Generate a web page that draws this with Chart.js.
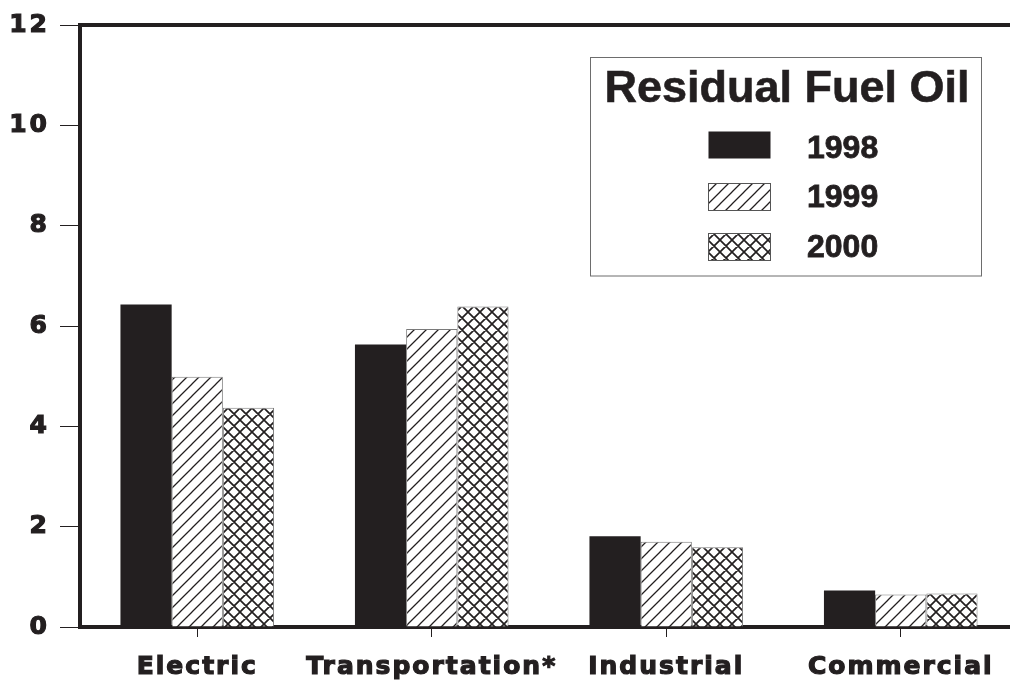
<!DOCTYPE html>
<html>
<head>
<meta charset="utf-8">
<script src="https://cdn.jsdelivr.net/npm/chart.js@4.4.1/dist/chart.umd.min.js"></script>
<style>
  html, body { margin: 0; padding: 0; background: #ffffff; overflow: hidden; }
  #wrap { position: absolute; left: 0; top: 0; width: 1020px; height: 681px; }
</style>
</head>
<body>
<div id="wrap"><canvas id="c"></canvas></div>
<script>
// ---- data ----
const categories = ['Electric', 'Transportation*', 'Industrial', 'Commercial'];
const seriesNames = ['1998', '1999', '2000'];
const values1998 = [6.43, 5.63, 1.81, 0.73];
const values1999 = [4.99, 5.94, 1.70, 0.65];
const values2000 = [4.37, 6.39, 1.59, 0.67];
const yTicks = [0, 2, 4, 6, 8, 10, 12];
const legendTitle = 'Residual Fuel Oil';

const INK = '#231f20';

function makePattern(kind) {
  const s = 12;
  const c = document.createElement('canvas');
  c.width = s; c.height = s;
  const g = c.getContext('2d');
  g.fillStyle = '#ffffff';
  g.fillRect(0, 0, s, s);
  g.strokeStyle = INK;
  g.lineCap = 'square';
  g.lineWidth = kind === 'cross' ? 1.7 : 1.25;
  g.beginPath();
  g.moveTo(-s / 2, s / 2); g.lineTo(s / 2, -s / 2);
  g.moveTo(0, s); g.lineTo(s, 0);
  g.moveTo(s / 2, s * 1.5); g.lineTo(s * 1.5, s / 2);
  if (kind === 'cross') {
    g.moveTo(-s / 2, s / 2); g.lineTo(s / 2, s * 1.5);
    g.moveTo(0, 0); g.lineTo(s, s);
    g.moveTo(s / 2, -s / 2); g.lineTo(s * 1.5, s / 2);
  }
  g.stroke();
  return g.createPattern(c, 'repeat');
}

const ctx = document.getElementById('c').getContext('2d');
const diag = makePattern('diag');
const cross = makePattern('cross');

function patchSpacing(scale, spacing) {
  if (!scale || scale._spacingPatched) return;
  const orig = scale.drawLabels;
  scale.drawLabels = function (area) {
    const prev = this.ctx.letterSpacing;
    this.ctx.letterSpacing = spacing;
    orig.call(this, area);
    this.ctx.letterSpacing = prev;
  };
  scale._spacingPatched = true;
}

const legendPlugin = {
  id: 'boxLegend',
  afterUpdate(chart) {
    patchSpacing(chart.scales.x, '2px');
    patchSpacing(chart.scales.y, '3px');
  },
  afterDraw(chart) {
    const g = chart.ctx;
    const ca = chart.chartArea;
    g.save();
    g.letterSpacing = '0px';
    g.strokeStyle = INK;
    g.lineWidth = 4;
    g.beginPath();
    g.moveTo(ca.left - 2, ca.top);
    g.lineTo(ca.right, ca.top);
    g.stroke();
    const bx = 590.5, by = 57.5, bw = 391, bh = 218.5;
    g.fillStyle = '#ffffff';
    g.fillRect(bx, by, bw, bh);
    g.strokeStyle = '#6d6d6d';
    g.lineWidth = 1;
    g.strokeRect(bx, by, bw, bh);
    g.fillStyle = INK;
    g.strokeStyle = INK;
    g.lineWidth = 0.6;
    g.font = 'bold 45px "Liberation Sans", Arial, sans-serif';
    g.textAlign = 'center';
    g.textBaseline = 'alphabetic';
    g.fillText(legendTitle, 787, 102);
    g.strokeText(legendTitle, 787, 102);
    g.font = 'bold 32px "Liberation Sans", Arial, sans-serif';
    g.textAlign = 'left';
    const rowsY = [131, 183, 233];
    const baselines = [158, 207, 257];
    chart.data.datasets.forEach((ds, i) => {
      const x = 708.5, y = rowsY[i] + 0.5, w = 62, h = 27;
      g.fillStyle = ds.backgroundColor;
      g.fillRect(x, y, w, h);
      if (ds.borderWidth) {
        g.strokeStyle = '#555555';
        g.lineWidth = 1;
        g.strokeRect(x, y, w, h);
      }
      g.fillStyle = INK;
      g.strokeStyle = INK;
      g.lineWidth = 0.8;
      g.fillText(ds.label, 807, baselines[i]);
      g.strokeText(ds.label, 807, baselines[i]);
    });
    g.restore();
  }
};

new Chart(ctx, {
  type: 'bar',
  data: {
    labels: categories,
    datasets: [
      { label: seriesNames[0], data: values1998, backgroundColor: INK, borderWidth: 0 },
      { label: seriesNames[1], data: values1999, backgroundColor: diag, borderColor: '#7a7a7a', borderWidth: 1 },
      { label: seriesNames[2], data: values2000, backgroundColor: cross, borderColor: '#7a7a7a', borderWidth: 1 }
    ]
  },
  options: {
    responsive: true,
    maintainAspectRatio: false,
    animation: false,
    devicePixelRatio: 1,
    layout: { padding: { top: 22, right: 2, left: 0, bottom: 0 } },
    datasets: { bar: { barPercentage: 1.0, categoryPercentage: 0.655 } },
    plugins: { legend: { display: false }, tooltip: { enabled: false }, title: { display: false } },
    scales: {
      x: {
        grid: { display: true, offset: false, drawOnChartArea: false, drawTicks: true, tickLength: 10, tickWidth: 1, tickColor: INK },
        border: { display: true, width: 4, color: INK },
        ticks: { color: INK, padding: 15, maxRotation: 0, autoSkip: false,
                 textStrokeColor: INK, textStrokeWidth: 1.2,
                 font: { family: '"DejaVu Sans", sans-serif', weight: 'bold', size: 25 } },
        afterFit(scale) { scale.height = 54; }
      },
      y: {
        min: 0, max: 12,
        afterBuildTicks(scale) { scale.ticks = yTicks.map(v => ({ value: v })); },
        grid: { display: true, drawOnChartArea: false, drawTicks: true, tickLength: 20, tickWidth: 1, tickColor: INK },
        border: { display: true, width: 4, color: INK },
        ticks: { color: INK, padding: 10,
                 textStrokeColor: INK, textStrokeWidth: 1.2,
                 font: { family: '"DejaVu Sans", sans-serif', weight: 'bold', size: 25 } },
        afterFit(scale) { scale.width = 80; }
      }
    }
  },
  plugins: [legendPlugin]
});
</script>
</body>
</html>
